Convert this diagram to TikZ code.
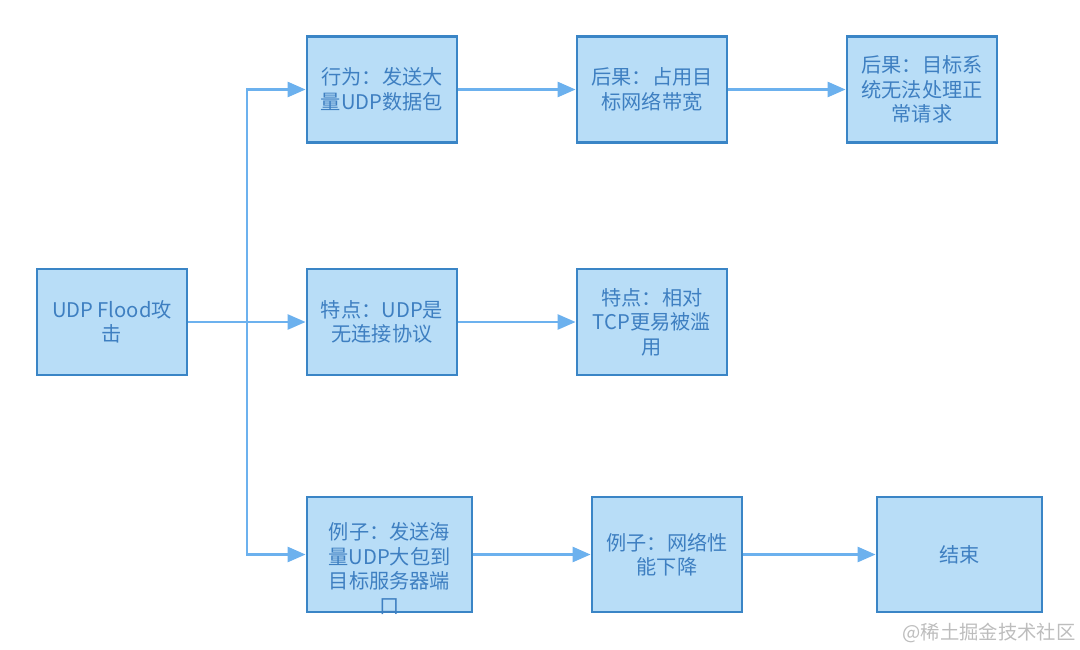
\documentclass[tikz,border=0pt]{standalone}
\usepackage{fontspec}
\setmainfont{Noto Sans CJK SC}
\usetikzlibrary{arrows.meta}
\definecolor{boxfill}{HTML}{B8DDF7}
\definecolor{boxline}{HTML}{3A85C6}
\definecolor{boxtext}{HTML}{3E7FC1}
\definecolor{flowline}{HTML}{6CB1EE}
\definecolor{markgray}{HTML}{BDBDBD}
\tikzset{
  boxlabel/.style={text=boxtext, align=center, font=\fontsize{11.5pt}{14pt}\selectfont, inner sep=2pt},
  stepbox/.style={boxlabel, draw=boxline, fill=boxfill, line width=1.6pt,
    minimum width=3cm, minimum height=2.12cm},
  widebox/.style={stepbox, minimum width=3.3cm, minimum height=2.3cm},
  flow/.style={draw=flowline, line width=1.5pt, -{Triangle[length=0.36cm,width=0.3cm]}},
}
\begin{document}
\begin{tikzpicture}[x=0.02cm,y=-0.02cm]
\useasboundingbox (0,0) rectangle (1080,650);
%-------->nodes<--------------
\node[stepbox] (attack) at (112,322) {UDP Flood攻\\击}; % start
\node[stepbox] (act) at (382,89.5) {行为：发送大\\量UDP数据包};
\node[stepbox] (bw) at (652,89.5) {后果：占用目\\标网络带宽};
\node[stepbox] (deny) at (922,89.5) {后果：目标系\\统无法处理正\\常请求};
\node[stepbox] (noconn) at (382,322) {特点：UDP是\\无连接协议};
\node[stepbox] (abuse) at (652,322) {特点：相对\\TCP更易被滥\\用};
\node[widebox] (big) at (389.5,554.5) {};
\node[boxlabel] (bigtext) at ([yshift=-0.28cm]big.center) {例子：发送海\\量UDP大包到\\目标服务器端\\口};
\node[stepbox, minimum height=2.3cm] (slow) at (667,554.5) {例子：网络性\\能下降};
\node[widebox] (stop) at (959.5,554.5) {结束};
%-------------> branch <------------------
\coordinate (fork) at (247,322);
\draw[flow] (attack.east) -- (noconn.west);
\draw[flow] (fork) |- (act.west);
\draw[flow] (fork) |- (big.west);
%-------------> rows <------------------
\draw[flow] (act) -- (bw);
\draw[flow] (bw) -- (deny);
\draw[flow] (noconn) -- (abuse);
\draw[flow] (big) -- (slow);
\draw[flow] (slow) -- (stop);
%-------------> mark <------------------
\node[text=markgray, font=\fontsize{11pt}{13pt}\selectfont] (mark) at (989,633) {@稀土掘金技术社区};
\end{tikzpicture}
\end{document}
